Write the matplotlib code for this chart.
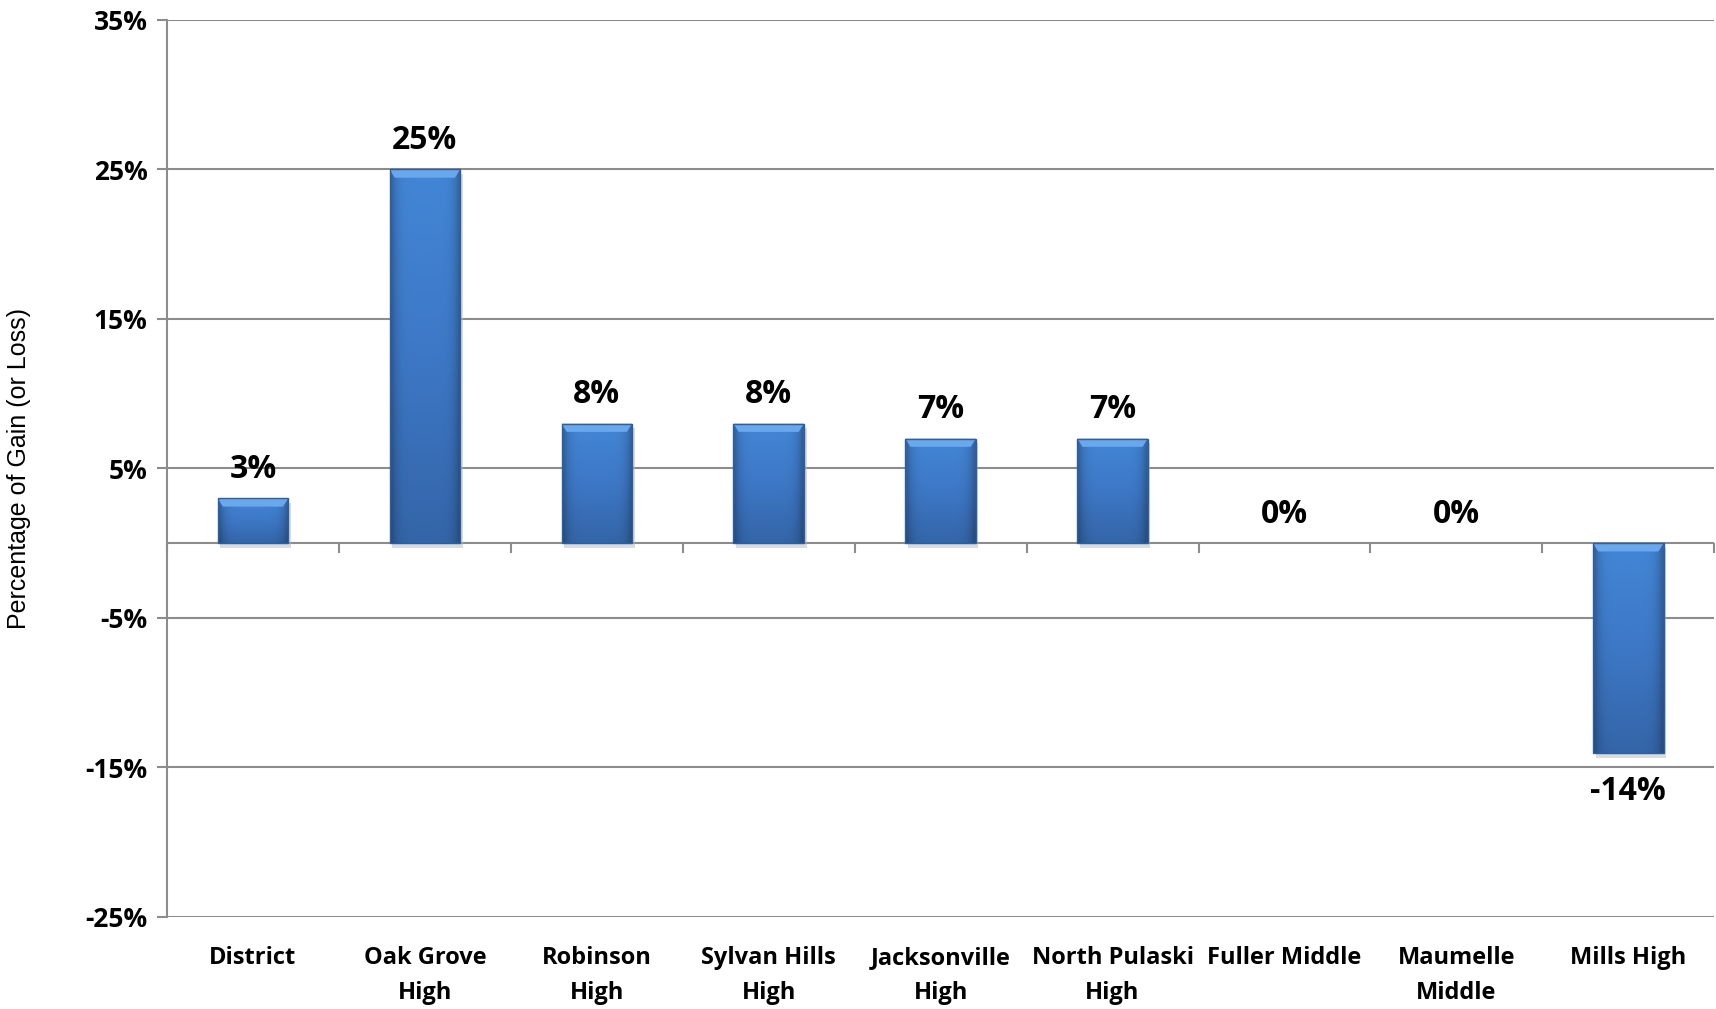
import numpy as np
import matplotlib
matplotlib.use("Agg")
import matplotlib.pyplot as plt
from matplotlib.colors import LinearSegmentedColormap

categories = ["District", "Oak Grove\nHigh", "Robinson\nHigh", "Sylvan Hills\nHigh",
              "Jacksonville\nHigh", "North Pulaski\nHigh", "Fuller Middle",
              "Maumelle\nMiddle", "Mills High"]
values = [3, 25, 8, 8, 7, 7, 0, 0, -14]
yticks = [35, 25, 15, 5, -5, -15, -25]

bold = "Open Sans"
grid_col = "#8c8c8c"

fig = plt.figure(figsize=(17.16, 10.09), dpi=100)
ax = fig.add_axes([0.0973, 0.0912, 0.9017, 0.889])

x = np.arange(len(categories))
bars = ax.bar(x, values, width=0.41, color="#3f7fcf", linewidth=0, zorder=3)

ax.set_xlim(-0.5, len(categories) - 0.5)
ax.set_ylim(-25, 35)

# gradient fill + bevel on every bar
body = LinearSegmentedColormap.from_list("body", ["#3465a8", "#3d78c6", "#4386d6"])
for b in bars:
    h = b.get_height()
    if h == 0:
        continue
    x0, w = b.get_x(), b.get_width()
    y0, y1 = min(0, h), max(0, h)
    grad = np.linspace(0, 1, 200).reshape(-1, 1)
    grad = np.repeat(grad, 20, axis=1)
    # darken toward the side edges
    side = 1 - 0.25 * np.abs(np.linspace(-1, 1, 20)) ** 6
    img = body(grad)[:, :, :3] * side[None, :, None]
    im = ax.imshow(img, extent=[x0, x0 + w, y0, y1], origin="lower",
                   aspect="auto", zorder=3.1, interpolation="bilinear")
    im.set_clip_path(b)
    # light bevel band at the top edge
    bev = 0.55
    ax.fill([x0, x0 + w, x0 + w - 0.03, x0 + 0.03],
            [y1, y1, y1 - bev, y1 - bev], color="#6aa8ee", zorder=3.2, lw=0)
    # soft shadow
    ax.fill_between([x0 + 0.015, x0 + w + 0.015], y0 - 0.35, y1 - 0.3,
                    color="#b8b8b8", alpha=0.5, zorder=2.5, lw=0)
    ax.bar(b.get_x() + w / 2, h, width=w, fill=False, edgecolor="#2d5f9e",
           linewidth=1.0, zorder=3.3)

# value labels
for xi, v in zip(x, values):
    off = -28 if v < 0 else 21
    ax.annotate(f"{v}%", (xi, v), xytext=(0, off), textcoords="offset points",
                ha="center", va="center", fontsize=23, fontweight="bold",
                family=bold, zorder=5)

# grid and axes
ax.set_yticks(yticks)
ax.set_yticklabels([f"{t}%" for t in yticks], fontsize=19, fontweight="bold", family=bold)
ax.yaxis.grid(True, color=grid_col, linewidth=1.5, zorder=1)
ax.tick_params(axis="y", length=7, width=1.5, color=grid_col, pad=7)
ax.set_xticks(x)
ax.set_xticklabels(categories, fontsize=17, fontweight="bold", family=bold,
                   linespacing=1.6, va="top")
ax.tick_params(axis="x", length=0, pad=21)
for s in ["top", "right", "bottom"]:
    ax.spines[s].set_visible(False)
ax.spines["left"].set_color(grid_col)
ax.spines["left"].set_linewidth(1.5)

ax.axhline(0, color=grid_col, linewidth=1.5, zorder=2)
# category separator ticks on the zero line
sec = ax.secondary_xaxis(25 / 60)
sec.set_xticks(np.arange(len(categories) + 1) - 0.5)
sec.set_xticklabels([])
sec.tick_params(axis="x", direction="out", length=7, width=1.5, color=grid_col)
sec.spines["bottom"].set_visible(False)
sec.spines["top"].set_visible(False)

ax.set_ylabel("Percentage of Gain (or Loss)", fontsize=18, family="Liberation Sans")
ax.yaxis.set_label_coords(-0.088, 0.5)

fig.savefig("out.png", dpi=100, facecolor="white")
